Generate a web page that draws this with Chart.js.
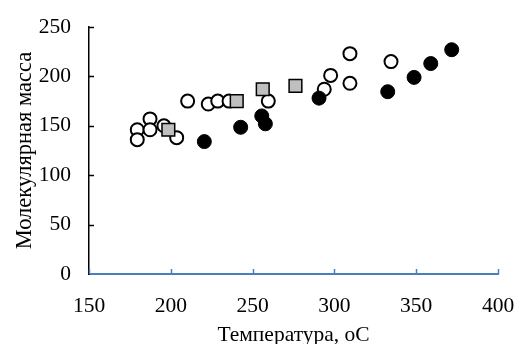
<!DOCTYPE html>
<html>
<head>
<meta charset="utf-8">
<script src="https://cdn.jsdelivr.net/npm/chart.js@4"></script>
<style>
  body { margin: 0; background: #fff; }
  #wrap { width: 518px; height: 344px; }
</style>
</head>
<body>
<div id="wrap"><canvas id="tempChart" width="518" height="344"></canvas></div>
<script>
// Open circles
const openX = [179.5, 179.5, 187.3, 187.3, 195.8, 203.6, 210.3, 222.9, 228.7, 235.6, 259.6, 293.8, 297.7, 309.5, 309.5, 334.6];
const openY = [146, 136, 157, 146, 150, 138, 175, 172, 175, 175, 175, 187, 201, 223, 193, 215];
// Filled circles
const filledX = [220.5, 242.7, 255.6, 257.8, 290.6, 332.6, 348.7, 358.9, 371.7];
const filledY = [134, 148.5, 160, 152, 178, 184.5, 199, 213, 227];
// Grey squares
const squareX = [198.5, 240.3, 256.2, 276.2];
const squareY = [146, 175, 187, 190.5];

const xTitle = 'Температура, оС';
const yTitle = 'Молекулярная масса';

// turn two arrays into {x, y} points
function toPoints(xs, ys) {
    return xs.map((x, i) => ({ x: x, y: ys[i] }));
}

const serif = 'Liberation Serif, Times New Roman, serif';

// draws the short inward tick marks and the x-axis title
const axisExtras = {
    id: 'axisExtras',
    afterDraw(chart) {
        const c = chart.ctx;
        const xs = chart.scales.x, ys = chart.scales.y;
        const area = chart.chartArea;
        c.save();
        c.lineWidth = 1.5;
        c.strokeStyle = '#000';
        ys.ticks.forEach(t => {
            if (t.value === 0) return;
            const py = Math.round(ys.getPixelForValue(t.value)) + 0.5;
            c.beginPath();
            c.moveTo(area.left, py);
            c.lineTo(area.left + 5, py);
            c.stroke();
        });
        c.strokeStyle = '#4A7EBB';
        xs.ticks.forEach(t => {
            const px = Math.round(xs.getPixelForValue(t.value)) + 0.5;
            c.beginPath();
            c.moveTo(px, area.bottom);
            c.lineTo(px, area.bottom - 5);
            c.stroke();
        });
        c.fillStyle = '#000';
        c.font = '21.5px ' + serif;
        c.textAlign = 'center';
        c.textBaseline = 'alphabetic';
        c.fillText(xTitle, (area.left + area.right) / 2, 341);
        c.restore();
    }
};

new Chart(document.getElementById('tempChart').getContext('2d'), {
    type: 'scatter',
    data: {
        datasets: [
            {
                label: 'squares',
                data: toPoints(squareX, squareY),
                pointStyle: 'rect',
                pointRadius: 9,
                backgroundColor: '#BFBFBF',
                borderColor: '#000',
                borderWidth: 1.5
            },
            {
                label: 'filled',
                data: toPoints(filledX, filledY),
                pointRadius: 7,
                backgroundColor: '#000',
                borderColor: '#000',
                borderWidth: 1
            },
            {
                label: 'open',
                data: toPoints(openX, openY),
                pointRadius: 6.5,
                backgroundColor: '#fff',
                borderColor: '#000',
                borderWidth: 2
            }
        ]
    },
    options: {
        responsive: false,
        animation: false,
        events: [],
        layout: { padding: { top: 27, right: 20, left: 0, bottom: 0 } },
        plugins: {
            legend: { display: false },
            tooltip: { enabled: false }
        },
        scales: {
            x: {
                type: 'linear',
                min: 150,
                max: 400,
                ticks: {
                    stepSize: 50,
                    color: '#000',
                    padding: 19,
                    font: { family: serif, size: 21.5 }
                },
                grid: { display: false, drawTicks: false },
                border: { display: true, color: '#4A7EBB', width: 2 },
                afterFit: (scale) => {
                    scale.height = 70;
                    scale.paddingLeft = 0;
                    scale.paddingRight = 0;
                }
            },
            y: {
                min: 0,
                max: 250,
                ticks: {
                    stepSize: 50,
                    color: '#000',
                    padding: 18,
                    font: { family: serif, size: 21.5 }
                },
                grid: { display: false, drawTicks: false },
                border: { display: true, color: '#000', width: 1.5 },
                title: {
                    display: true,
                    text: yTitle,
                    color: '#000',
                    padding: { top: 12, bottom: 0 },
                    font: { family: serif, size: 22.5 }
                },
                afterFit: (scale) => {
                    scale.width = 89;
                    scale.paddingTop = 0;
                    scale.paddingBottom = 0;
                }
            }
        }
    },
    plugins: [axisExtras]
});
</script>
</body>
</html>
